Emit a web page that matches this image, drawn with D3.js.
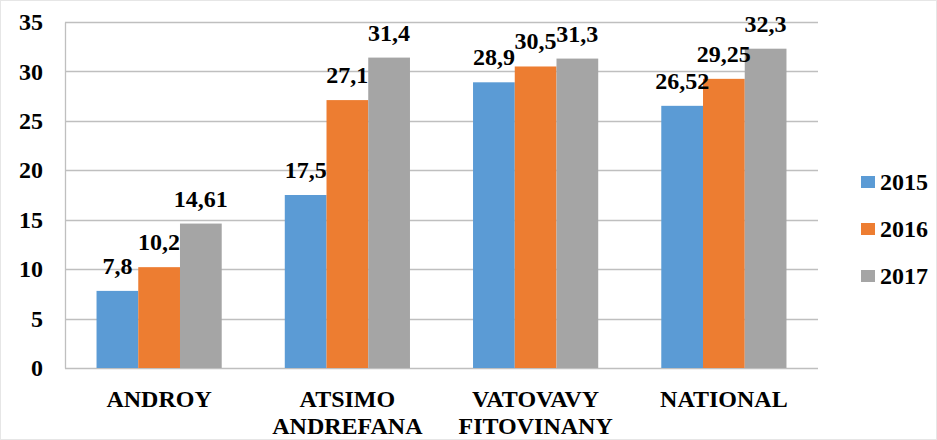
<!DOCTYPE html>
<html>
<head>
<meta charset="utf-8">
<script src="https://cdn.jsdelivr.net/npm/d3@7"></script>
<style>
  html, body { margin: 0; padding: 0; background: #fff; }
  svg text { font-family: "Liberation Serif", "Times New Roman", serif; font-weight: bold; }
</style>
</head>
<body>
<div id="chart"></div>
<script>
const regions = [['ANDROY'], ['ATSIMO', 'ANDREFANA'], ['VATOVAVY', 'FITOVINANY'], ['NATIONAL']]
const years = ['2015', '2016', '2017']
const v2015 = [7.8, 17.5, 28.9, 26.52]
const v2016 = [10.2, 27.1, 30.5, 29.25]
const v2017 = [14.61, 31.4, 31.3, 32.3]
const yTicks = [0, 5, 10, 15, 20, 25, 30, 35]
const colors = ['#5b9bd5', '#ed7d31', '#a5a5a5']

const series = [v2015, v2016, v2017]
const fmt = v => String(v).replace('.', ',')
const fontSize = 24

const width = 937
const height = 440
const margin = { top: 22, right: 119, bottom: 72, left: 65 }

const svg = d3.select('#chart').append('svg')
  .attr('width', width)
  .attr('height', height)

// outer chart border
svg.append('rect')
  .attr('x', 0.5).attr('y', 0.5)
  .attr('width', width - 1).attr('height', height - 1)
  .attr('fill', 'none')
  .attr('stroke', '#e6e6e6')

const x = d3.scaleBand()
  .domain(regions.map((d, i) => i))
  .range([margin.left, width - margin.right])
  .paddingInner(0.335)
  .paddingOuter(0.1675)

const xs = d3.scaleBand()
  .domain(years)
  .range([0, x.bandwidth()])

const y = d3.scaleLinear()
  .domain([0, 35])
  .range([height - margin.bottom, margin.top])

// gridlines
svg.append('g')
  .selectAll('line')
  .data(yTicks)
  .enter()
  .append('line')
  .attr('x1', margin.left)
  .attr('x2', width - margin.right)
  .attr('y1', d => Math.round(y(d)) + 0.5)
  .attr('y2', d => Math.round(y(d)) + 0.5)
  .attr('stroke', '#bfbfbf')
  .attr('stroke-width', 1.3)

// y axis
const yAxis = svg.append('g')
  .attr('transform', `translate(${margin.left},0)`)
  .call(d3.axisLeft(y).tickValues(yTicks).tickSize(0).tickPadding(22))
yAxis.attr('font-family', null)
yAxis.select('.domain').attr('stroke', '#bfbfbf').attr('stroke-width', 1.3)
yAxis.selectAll('text')
  .attr('font-size', fontSize)
  .attr('fill', '#000')

// bars
const groups = svg.append('g')
  .selectAll('g')
  .data(regions.map((r, i) => i))
  .enter()
  .append('g')
  .attr('transform', i => `translate(${x(i)},0)`)

groups.selectAll('rect')
  .data(i => years.map((yr, k) => ({ yr, k, v: series[k][i] })))
  .enter()
  .append('rect')
  .attr('x', d => xs(d.yr))
  .attr('width', xs.bandwidth())
  .attr('y', d => y(d.v))
  .attr('height', d => y(0) - y(d.v))
  .attr('fill', d => colors[d.k])

// value labels
groups.selectAll('text')
  .data(i => years.map((yr, k) => ({ yr, k, v: series[k][i] })))
  .enter()
  .append('text')
  .attr('x', d => xs(d.yr) + xs.bandwidth() / 2)
  .attr('y', d => y(d.v) - 17)
  .attr('text-anchor', 'middle')
  .attr('font-size', fontSize)
  .attr('fill', '#000')
  .text(d => fmt(d.v))

// category labels
const cats = svg.append('g')
  .selectAll('text')
  .data(regions)
  .enter()
  .append('text')
  .attr('x', (d, i) => x(i) + x.bandwidth() / 2)
  .attr('y', 407)
  .attr('text-anchor', 'middle')
  .attr('font-size', fontSize)
  .attr('fill', '#000')
cats.selectAll('tspan')
  .data(d => d)
  .enter()
  .append('tspan')
  .attr('x', function () { return this.parentNode.getAttribute('x') })
  .attr('dy', (d, j) => (j === 0 ? 0 : 27))
  .text(d => d)

// legend
const legend = svg.append('g')
  .selectAll('g')
  .data(years)
  .enter()
  .append('g')
  .attr('transform', (d, i) => `translate(861,${176 + i * 47})`)
legend.append('rect')
  .attr('width', 14)
  .attr('height', 12)
  .attr('fill', (d, i) => colors[i])
legend.append('text')
  .attr('x', 19)
  .attr('y', 14)
  .attr('font-size', fontSize)
  .attr('fill', '#000')
  .text(d => d)
</script>
</body>
</html>
